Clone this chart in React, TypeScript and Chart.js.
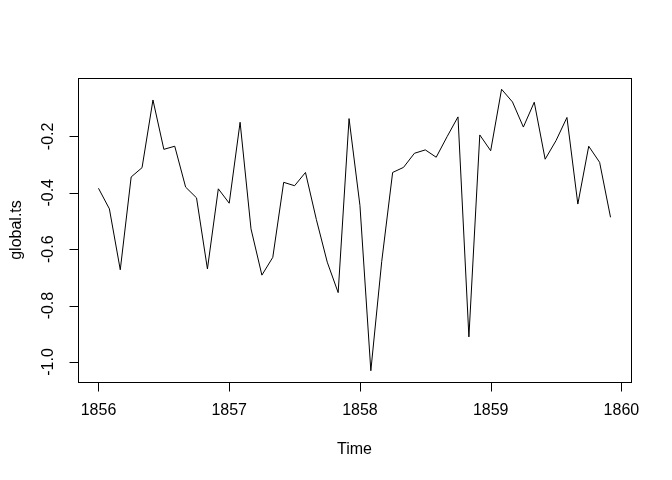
import React, { useEffect, useRef } from "react";
import { Chart, registerables } from "chart.js";

Chart.register(...registerables);

const startYear = 1856;
const monthsPerYear = 12;
const values: number[] = [
  -0.384, -0.457, -0.673, -0.344, -0.311, -0.071, -0.246, -0.235, -0.380, -0.418, -0.670, -0.386,
  -0.437, -0.150, -0.528, -0.692, -0.629, -0.363, -0.375, -0.328, -0.495, -0.646, -0.754, -0.137,
  -0.445, -1.031, -0.643, -0.328, -0.310, -0.260, -0.248, -0.274, -0.201, -0.131, -0.911, -0.195,
  -0.251, -0.033, -0.078, -0.167, -0.079, -0.281, -0.215, -0.133, -0.440, -0.235, -0.292, -0.487,
];
const xTicks = [1856, 1857, 1858, 1859, 1860];
const yTicks = [-1.0, -0.8, -0.6, -0.4, -0.2];
const xTitle = "Time";
const yTitle = "global.ts";

const FONT = "16px 'Liberation Sans', Arial, sans-serif";

const rAxesPlugin = {
  id: "rAxes",
  afterDraw(chart: any) {
    const { ctx, chartArea: a, scales } = chart;
    const xs = scales.x;
    const ys = scales.y;
    ctx.save();
    ctx.strokeStyle = "#000";
    ctx.fillStyle = "#000";
    ctx.lineWidth = 1;
    // box
    ctx.strokeRect(Math.round(a.left) + 0.5, Math.round(a.top) + 0.5, Math.round(a.right - a.left), Math.round(a.bottom - a.top));
    ctx.font = FONT;
    // x axis
    ctx.beginPath();
    const x0 = Math.round(xs.getPixelForValue(xTicks[0])) + 0.5;
    const x1 = Math.round(xs.getPixelForValue(xTicks[xTicks.length - 1])) + 0.5;
    const by = Math.round(a.bottom) + 0.5;
    ctx.moveTo(x0, by);
    ctx.lineTo(x1, by);
    xTicks.forEach((t) => {
      const px = Math.round(xs.getPixelForValue(t)) + 0.5;
      ctx.moveTo(px, by);
      ctx.lineTo(px, by + 9);
    });
    ctx.stroke();
    ctx.textAlign = "center";
    ctx.textBaseline = "middle";
    xTicks.forEach((t) => {
      ctx.fillText(String(t), xs.getPixelForValue(t), 411);
    });
    // y axis
    ctx.beginPath();
    const lx = Math.round(a.left) + 0.5;
    const y0 = Math.round(ys.getPixelForValue(yTicks[0])) + 0.5;
    const y1 = Math.round(ys.getPixelForValue(yTicks[yTicks.length - 1])) + 0.5;
    ctx.moveTo(lx, y0);
    ctx.lineTo(lx, y1);
    yTicks.forEach((t) => {
      const py = Math.round(ys.getPixelForValue(t)) + 0.5;
      ctx.moveTo(lx, py);
      ctx.lineTo(lx - 9, py);
    });
    ctx.stroke();
    yTicks.forEach((t) => {
      const py = ys.getPixelForValue(t);
      ctx.save();
      ctx.translate(49, py);
      ctx.rotate(-Math.PI / 2);
      ctx.fillText(t.toFixed(1), 0, 0);
      ctx.restore();
    });
    // titles
    ctx.fillText(xTitle, (a.left + a.right) / 2, 450);
    ctx.save();
    ctx.translate(17, (a.top + a.bottom) / 2);
    ctx.rotate(-Math.PI / 2);
    ctx.fillText(yTitle, 0, 0);
    ctx.restore();
    ctx.restore();
  },
};

export default function App() {
  const ref = useRef<HTMLCanvasElement>(null);
  useEffect(() => {
    if (!ref.current) return;
    const data = values.map((v, i) => ({ x: startYear + i / monthsPerYear, y: v }));
    const xMinData = startYear;
    const xMaxData = startYear + (values.length - 1) / monthsPerYear;
    const xPad = (xMaxData - xMinData) * 0.04;
    const yMinData = Math.min(...values);
    const yMaxData = Math.max(...values);
    const yPad = (yMaxData - yMinData) * 0.04;
    const chart = new Chart(ref.current, {
      type: "line",
      data: {
        datasets: [
          {
            data,
            borderColor: "#000",
            borderWidth: 1,
            pointRadius: 0,
            tension: 0,
            fill: false,
          },
        ],
      },
      options: {
        animation: false,
        responsive: false,
        devicePixelRatio: 1,
        layout: { padding: { left: 78, top: 78, right: 41, bottom: 98 } },
        plugins: { legend: { display: false }, tooltip: { enabled: false } },
        scales: {
          x: {
            type: "linear",
            min: xMinData - xPad,
            max: xMaxData + xPad,
            ticks: { display: false },
            grid: { display: false },
            border: { display: false },
            afterFit: (s: any) => { s.height = 0; },
          },
          y: {
            type: "linear",
            min: yMinData - yPad,
            max: yMaxData + yPad,
            ticks: { display: false },
            grid: { display: false },
            border: { display: false },
            afterFit: (s: any) => { s.width = 0; },
          },
        },
      },
      plugins: [rAxesPlugin],
    });
    return () => chart.destroy();
  }, []);
  return (
    <div style={{ position: "fixed", left: 0, top: 0, width: 672, height: 480, background: "#fff" }}>
      <canvas ref={ref} width={672} height={480} style={{ width: 672, height: 480 }} />
    </div>
  );
}
